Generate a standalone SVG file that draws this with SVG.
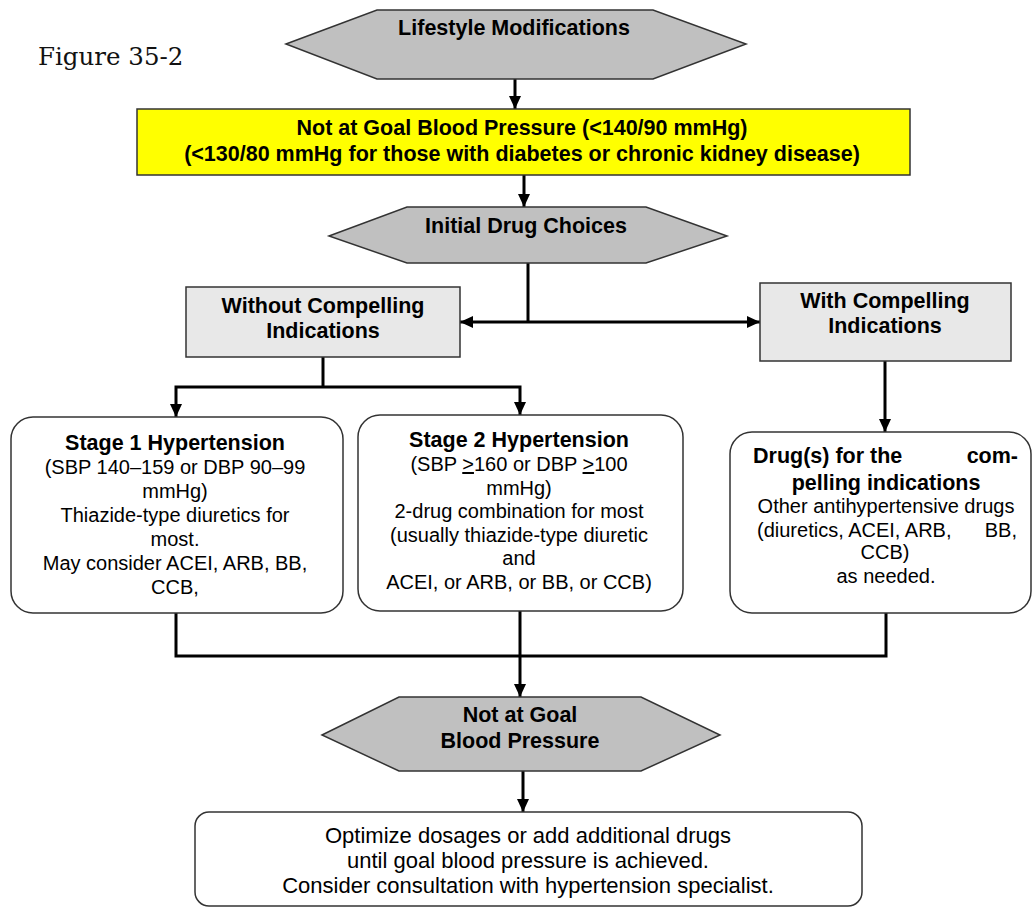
<svg xmlns="http://www.w3.org/2000/svg" width="1033" height="908" viewBox="0 0 1033 908">
<style>
.hex{fill:#c0c0c0;stroke:#333;stroke-width:1.5}
.gbox{fill:#e8e8e8;stroke:#333;stroke-width:1.5}
.ybox{fill:#ffff00;stroke:#333;stroke-width:1.5}
.wbox{fill:#fff;stroke:#333;stroke-width:1.5}
.b{font-family:"Liberation Sans",Arial,sans-serif;font-weight:bold;font-size:21.5px;fill:#000;text-anchor:middle}
.r{font-family:"Liberation Sans",Arial,sans-serif;font-size:20px;fill:#000;text-anchor:middle}
.r2{font-family:"Liberation Sans",Arial,sans-serif;font-size:22px;fill:#000;text-anchor:middle}
.conn{fill:none;stroke:#000;stroke-width:3}
</style>
<defs>
<marker id="arr" markerUnits="userSpaceOnUse" markerWidth="13" markerHeight="12" refX="13" refY="6" orient="auto">
<path d="M0,0 L13,6 L0,12 z" fill="#000"/>
</marker>
</defs>
<text x="38" y="65" font-family="DejaVu Serif,serif" font-size="24.5" fill="#111">Figure 35-2</text>
<g id="connectors">
<path class="conn" d="M515,79 V109" marker-end="url(#arr)"/>
<path class="conn" d="M524,175 V207" marker-end="url(#arr)"/>
<path class="conn" d="M528,263 V322"/>
<path class="conn" d="M528,322 H460" marker-end="url(#arr)"/>
<path class="conn" d="M528,322 H760" marker-end="url(#arr)"/>
<path class="conn" d="M323,357 V387"/>
<path class="conn" d="M323,387 H176 V417" marker-end="url(#arr)"/>
<path class="conn" d="M323,387 H520 V415" marker-end="url(#arr)"/>
<path class="conn" d="M885,361 V432" marker-end="url(#arr)"/>
<path class="conn" d="M176,613 V656 H886 V613"/>
<path class="conn" d="M520,611 V697" marker-end="url(#arr)"/>
<path class="conn" d="M523,771 V812" marker-end="url(#arr)"/>
</g>
<g id="lifestyle">
<polygon class="hex" points="286,44 377,10 653,10 746,44 653,79 377,79"/>
<text class="b" x="514" y="35">Lifestyle Modifications</text>
</g>
<g id="notgoal1">
<rect class="ybox" x="137" y="109" width="773" height="66"/>
<text class="b" x="522" y="135">Not at Goal Blood Pressure (&lt;140/90 mmHg)</text>
<text class="b" x="522" y="161">(&lt;130/80 mmHg for those with diabetes or chronic kidney disease)</text>
</g>
<g id="initial">
<polygon class="hex" points="329,236 407,207 646,207 727,236 646,263 407,263"/>
<text class="b" x="526" y="233">Initial Drug Choices</text>
</g>
<g id="without">
<rect class="gbox" x="186" y="287" width="274" height="70"/>
<text class="b" x="323" y="313">Without Compelling</text>
<text class="b" x="323" y="338">Indications</text>
</g>
<g id="with">
<rect class="gbox" x="760" y="283" width="251" height="78"/>
<text class="b" x="885" y="308">With Compelling</text>
<text class="b" x="885" y="333">Indications</text>
</g>
<g id="stage1">
<rect class="wbox" x="11" y="417" width="332" height="196" rx="22"/>
<text class="b" x="175" y="450">Stage 1 Hypertension</text>
<text class="r" x="175" y="474">(SBP 140–159 or DBP 90–99</text>
<text class="r" x="175" y="498">mmHg)</text>
<text class="r" x="175" y="522">Thiazide-type diuretics for</text>
<text class="r" x="175" y="546">most.</text>
<text class="r" x="175" y="570">May consider ACEI, ARB, BB,</text>
<text class="r" x="175" y="594">CCB,</text>
</g>
<g id="stage2">
<rect class="wbox" x="358" y="415" width="325" height="196" rx="22"/>
<text class="b" x="519" y="447">Stage 2 Hypertension</text>
<text class="r" x="519" y="471">(SBP <tspan text-decoration="underline">&gt;</tspan>160 or DBP <tspan text-decoration="underline">&gt;</tspan>100</text>
<text class="r" x="519" y="495">mmHg)</text>
<text class="r" x="519" y="518">2-drug combination for most</text>
<text class="r" x="519" y="542">(usually thiazide-type diuretic</text>
<text class="r" x="519" y="565">and</text>
<text class="r" x="519" y="589">ACEI, or ARB, or BB, or CCB)</text>
</g>
<g id="drugs">
<rect class="wbox" x="730" y="432" width="301" height="181" rx="22"/>
<text class="b" y="463"><tspan x="753" text-anchor="start">Drug(s) for the</tspan><tspan x="1018" text-anchor="end">com-</tspan></text>
<text class="b" x="886" y="490">pelling indications</text>
<text class="r" x="886" y="513">Other antihypertensive drugs</text>
<text class="r" y="537"><tspan x="757" text-anchor="start">(diuretics, ACEI, ARB,</tspan><tspan x="1017" text-anchor="end">BB,</tspan></text>
<text class="r" x="885" y="559">CCB)</text>
<text class="r" x="886" y="583">as needed.</text>
</g>
<g id="notgoal2">
<polygon class="hex" points="322,735 399,697 641,697 720,735 641,771 399,771"/>
<text class="b" x="520" y="722">Not at Goal</text>
<text class="b" x="520" y="748">Blood Pressure</text>
</g>
<g id="optimize">
<rect class="wbox" x="195" y="812" width="667" height="94" rx="14"/>
<text class="r2" x="528" y="843">Optimize dosages or add additional drugs</text>
<text class="r2" x="528" y="868">until goal blood pressure is achieved.</text>
<text class="r2" x="528" y="893">Consider consultation with hypertension specialist.</text>
</g>
</svg>
